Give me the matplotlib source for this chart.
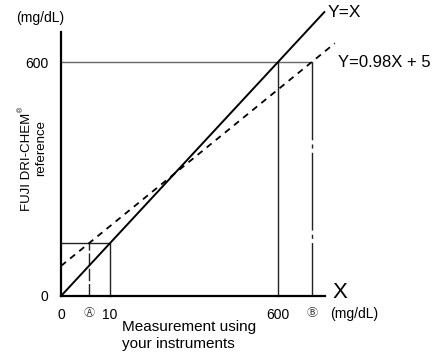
import matplotlib
matplotlib.use("Agg")
from matplotlib import pyplot as plt

plt.rcParams['font.family'] = ['Liberation Sans', 'DejaVu Sans']

# schematic positions (not to scale)
x_ticks = [0, 77, 135, 600, 694]
x_labels = ['0', 'Ⓐ', '10', '600', 'Ⓑ']
y_ticks = [0, 600]
y_labels = ['0', '600']

ident_x = [0, 728]
ident_y = [0, 728]
reg_x = [0, 757]
reg_y = [77, 648]

box_x = [0, 135, 135]
box_y = [135, 135, 0]
a_x = [77, 77]
a_y = [0, 135]
top_x = [0, 694]
top_y = [600, 600]
v600_x = [600, 600]
v600_y = [0, 600]
b_x = [694, 694]
b_y = [600, 0]

fig = plt.figure(figsize=(4.39, 3.55), dpi=100)
ax = fig.add_axes([0, 0, 1, 1])
ax.set_xlim(-168.7, 1045.1)
ax.set_ylim(-151.3, 759.0)

for s in ['top', 'right']:
    ax.spines[s].set_visible(False)
ax.spines['left'].set_position(('data', 0))
ax.spines['bottom'].set_position(('data', 0))
ax.spines['left'].set_bounds(0, 677)
ax.spines['bottom'].set_bounds(0, 730)
ax.spines['left'].set_linewidth(1.6)
ax.spines['bottom'].set_linewidth(1.6)

ax.set_xticks(x_ticks)
ax.set_xticklabels(x_labels)
ax.set_yticks(y_ticks)
ax.set_yticklabels(y_labels)
ax.tick_params(length=0, labelsize=10)
ax.tick_params(axis='x', pad=9)
ax.tick_params(axis='y', pad=9)
for lab in ax.get_xticklabels():
    if lab.get_text() in ('Ⓐ', 'Ⓑ'):
        lab.set_family(['Noto Sans CJK JP', 'DejaVu Sans'])
        lab.set_fontsize(8)
        lab.set_color('#333333')

ax.plot(top_x, top_y, color='#666666', lw=1)
ax.plot(v600_x, v600_y, color='#222222', lw=1)
ax.plot(box_x, box_y, color='#222222', lw=1)
ax.plot(a_x, a_y, color='#222222', lw=1, linestyle=(0, (9, 2)))
ax.plot(b_x, b_y, color='#222222', lw=1, linestyle=(0, (56, 3, 3, 3)))
ax.plot(ident_x, ident_y, color='black', lw=1.4)
ax.plot(reg_x, reg_y, color='black', lw=1.3, linestyle=(0, (3.5, 3)))

ax.text(736, 728, 'Y=X', fontsize=12.5, va='center', ha='left')
ax.text(765, 600, 'Y=0.98X + 5', fontsize=12, va='center', ha='left')
ax.text(750, 8, 'X', fontsize=16, va='center', ha='left')
ax.text(745, -47, '(mg/dL)', fontsize=10, va='center', ha='left')
ax.text(-58, 713, '(mg/dL)', fontsize=10, va='center', ha='center')
ax.text(170, -102, 'Measurement using\nyour instruments', fontsize=11,
        va='center', ha='left', linespacing=1.3)
ax.text(-94, 345, 'FUJI DRI-CHEM', fontsize=9.5, rotation=90,
        va='center', ha='center')
ax.text(-110, 478, '®', fontsize=5, rotation=90, va='center', ha='center')
ax.text(-55, 380, 'reference', fontsize=9.5, rotation=90,
        va='center', ha='center')

fig.savefig('out.png', dpi=100)
